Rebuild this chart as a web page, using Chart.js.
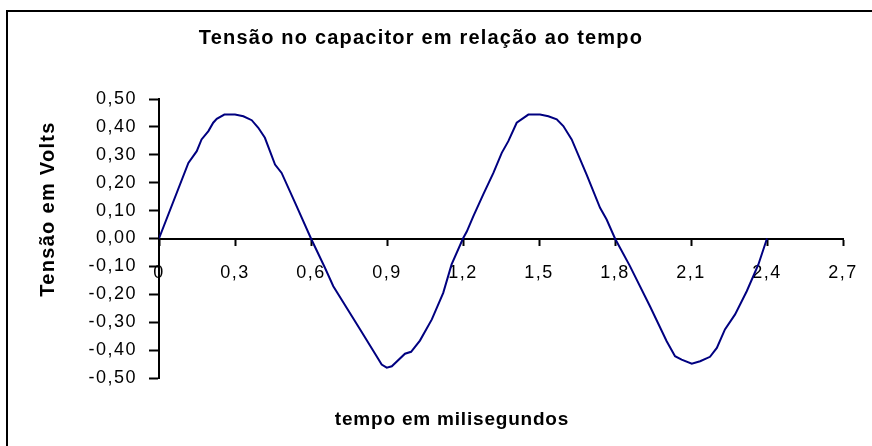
<!DOCTYPE html>
<html lang="pt">
<head>
<meta charset="utf-8">
<title>Tensão no capacitor em relação ao tempo</title>
<script src="https://cdn.jsdelivr.net/npm/chart.js@4/dist/chart.umd.min.js"></script>
<style>
  html, body { margin: 0; padding: 0; background: #fff; }
  #wrap { width: 872px; height: 446px; position: relative; }
</style>
</head>
<body>
<div id="wrap"><canvas id="chart"></canvas></div>
<script>
// ---------- data ----------
const TITULO   = 'Tensão no capacitor em relação ao tempo';
const TITULO_X = 'tempo em milisegundos';
const TITULO_Y = 'Tensão em Volts';

const tempoMs = [
    0.000, 0.116, 0.149, 0.168, 0.195, 0.214, 0.228, 0.258, 0.300, 0.333,
    0.366, 0.392, 0.418, 0.458, 0.484, 0.540, 0.600, 0.655, 0.688, 0.794,
    0.859, 0.879, 0.899, 0.919, 0.971, 0.995, 1.030, 1.077, 1.122, 1.155,
    1.200, 1.215, 1.241, 1.280, 1.320, 1.353, 1.379, 1.412, 1.458, 1.504,
    1.537, 1.570, 1.596, 1.629, 1.688, 1.741, 1.767, 1.800, 1.859, 1.938,
    2.004, 2.037, 2.063, 2.103, 2.136, 2.175, 2.202, 2.234, 2.274, 2.320,
    2.366, 2.400
];
const tensaoV = [
    0.000, 0.271, 0.313, 0.355, 0.385, 0.415, 0.429, 0.444, 0.444, 0.438,
    0.424, 0.397, 0.361, 0.265, 0.235, 0.122, 0.000, -0.105, -0.171, -0.326,
    -0.422, -0.452, -0.463, -0.458, -0.413, -0.406, -0.366, -0.290, -0.195, -0.093,
    0.000, 0.025, 0.080, 0.158, 0.235, 0.307, 0.349, 0.415, 0.444, 0.444,
    0.438, 0.427, 0.403, 0.355, 0.229, 0.110, 0.068, 0.000, -0.099, -0.243,
    -0.368, -0.422, -0.434, -0.449, -0.440, -0.424, -0.392, -0.326, -0.272, -0.189,
    -0.093, 0.000
];

// axis ranges / tick steps
const xMin = 0, xMax = 2.7, xStep = 0.3;
const yMin = -0.5, yMax = 0.5, yStep = 0.1;

// ---------- helpers ----------
const virgula = (v, casas) => v.toFixed(casas).replace('.', ',');
const FONTE = '"Liberation Sans", Arial, sans-serif';
const ESPACO_TICKS = '1.5px';

function titulo(ctx, texto, px, espaco, x, y) {
    ctx.font = 'bold ' + px + 'px ' + FONTE;
    ctx.letterSpacing = espaco;
    ctx.fillText(texto, x, y);
}

// frame (only top + left edges show in the picture) and the three titles
const molduraETitulos = {
    id: 'molduraETitulos',
    beforeUpdate(chart) { chart.ctx.letterSpacing = ESPACO_TICKS; },
    beforeDraw(chart)   { chart.ctx.letterSpacing = ESPACO_TICKS; },
    afterDraw(chart) {
        const ctx = chart.ctx;
        ctx.save();
        ctx.strokeStyle = '#000';
        ctx.lineWidth = 2;
        ctx.beginPath();
        ctx.moveTo(7, chart.height);
        ctx.lineTo(7, 11);
        ctx.lineTo(chart.width, 11);
        ctx.stroke();

        ctx.fillStyle = '#000';
        ctx.textAlign = 'center';
        ctx.textBaseline = 'middle';
        titulo(ctx, TITULO, 20, '1.2px', 421, 38);
        titulo(ctx, TITULO_X, 19, '0.8px', 452, 420);
        ctx.translate(48, 209);
        ctx.rotate(-Math.PI / 2);
        titulo(ctx, TITULO_Y, 20, '1.3px', 0, 0);
        ctx.restore();
    }
};

// ---------- chart ----------
const ctx = document.getElementById('chart').getContext('2d');

const chart = new Chart(ctx, {
    type: 'line',
    data: {
        datasets: [{
            label: 'Tensão',
            data: tempoMs.map((t, i) => ({ x: t, y: tensaoV[i] })),
            borderColor: '#000080',
            borderWidth: 2,
            pointRadius: 0,
            tension: 0,
            fill: false
        }]
    },
    options: {
        responsive: true,
        maintainAspectRatio: false,
        animation: false,
        layout: { padding: { left: 0, right: 29, top: 99, bottom: 68 } },
        plugins: {
            legend: { display: false },
            tooltip: { enabled: false }
        },
        scales: {
            x: {
                type: 'linear',
                position: { y: 0 },
                min: xMin, max: xMax,
                // edge labels fit inside the layout padding, don't let them shrink the plot
                afterFit(scale) { scale.paddingLeft = 0; scale.paddingRight = 0; },
                ticks: {
                    stepSize: xStep,
                    color: '#000',
                    padding: 18,
                    maxRotation: 0,
                    autoSkip: false,
                    font: { family: FONTE, size: 18 },
                    callback: v => Math.abs(v) < 1e-9 ? '0' : virgula(v, 1)
                },
                grid: { drawOnChartArea: false, drawTicks: true, tickLength: 6, tickWidth: 2, color: '#000' },
                border: { color: '#000', width: 2 }
            },
            y: {
                type: 'linear',
                position: 'left',
                min: yMin, max: yMax,
                afterFit(scale) { scale.width = 159; },
                ticks: {
                    stepSize: yStep,
                    color: '#000',
                    padding: 12,
                    font: { family: FONTE, size: 18 },
                    callback: v => virgula(Math.abs(v) < 1e-9 ? 0 : v, 2)
                },
                grid: { drawOnChartArea: false, drawTicks: true, tickLength: 10, tickWidth: 2, color: '#000' },
                border: { color: '#000', width: 2 }
            }
        }
    },
    plugins: [molduraETitulos]
});
</script>
</body>
</html>
